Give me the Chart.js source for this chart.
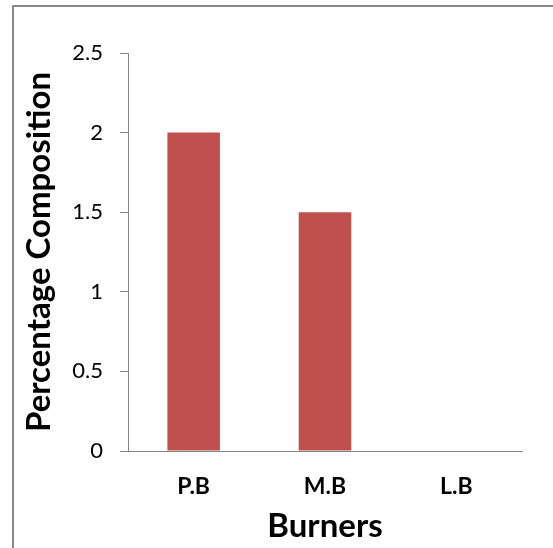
<!DOCTYPE html>
<html>
<head>
    <meta charset="UTF-8">
    <title>Percentage Composition by Burner</title>
    <script src="https://cdn.jsdelivr.net/npm/chart.js"></script>
    <style>
        html, body {
            margin: 0;
            padding: 0;
            background: white;
            overflow: hidden;
        }
        .frame {
            position: absolute;
            left: 12px;
            top: 5px;
            width: 600px;
            height: 600px;
            border-top: 2px solid #888;
            border-left: 2px solid #888;
        }
        .chart-box {
            position: absolute;
            left: 0;
            top: 0;
            width: 553px;
            height: 548px;
        }
    </style>
</head>
<body>
    <div class="frame"></div>
    <div class="chart-box">
        <canvas id="burnerChart"></canvas>
    </div>

    <script>
        // Data
        const burners = ['P.B', 'M.B', 'L.B'];
        const composition = [2, 1.5, 0];
        const yTicks = [0, 0.5, 1, 1.5, 2, 2.5];

        const axisGray = '#868686';

        const ctx = document.getElementById('burnerChart').getContext('2d');
        new Chart(ctx, {
            type: 'bar',
            data: {
                labels: burners,
                datasets: [{
                    label: 'Percentage Composition',
                    data: composition,
                    backgroundColor: '#C0504D',
                    borderWidth: 0,
                    barPercentage: 0.4,
                    categoryPercentage: 1.0
                }]
            },
            options: {
                responsive: true,
                maintainAspectRatio: false,
                animation: false,
                layout: {
                    padding: { left: 16, right: 31, top: 53, bottom: 0 }
                },
                plugins: {
                    legend: { display: false },
                    tooltip: { enabled: false }
                },
                scales: {
                    x: {
                        afterFit: function(scale) { scale.height = 97; },
                        grid: { display: false, drawTicks: false },
                        border: { color: axisGray, width: 1 },
                        ticks: {
                            color: '#000',
                            padding: 22,
                            font: { family: 'Lato', size: 23, weight: 'bold' }
                        },
                        title: {
                            display: true,
                            text: 'Burners',
                            color: '#000',
                            padding: { top: 4, bottom: 2 },
                            font: { family: 'Lato', size: 33, weight: 'bold' }
                        }
                    },
                    y: {
                        min: 0,
                        max: 2.5,
                        afterFit: function(scale) { scale.width = 112; },
                        afterBuildTicks: function(scale) {
                            scale.ticks = yTicks.map(v => ({ value: v }));
                        },
                        grid: {
                            drawOnChartArea: false,
                            drawTicks: true,
                            tickLength: 8,
                            color: axisGray
                        },
                        border: { color: axisGray, width: 1 },
                        ticks: {
                            color: '#000',
                            padding: 17,
                            font: { family: 'Lato', size: 22 },
                            callback: function(value) { return String(value); }
                        },
                        title: {
                            display: true,
                            text: 'Percentage Composition',
                            color: '#000',
                            padding: { top: 4, bottom: 4 },
                            font: { family: 'Lato', size: 33, weight: 'bold' }
                        }
                    }
                }
            }
        });
    </script>
</body>
</html>
